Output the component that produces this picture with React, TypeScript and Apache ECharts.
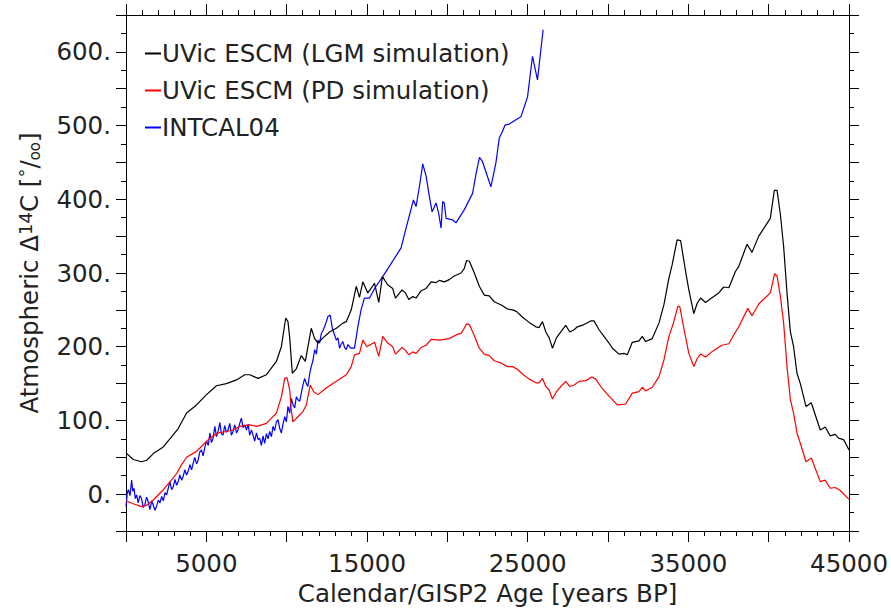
import React, { useEffect, useRef } from "react";
import * as echarts from "echarts";

const FONT = "DejaVu Sans";

const legendNames = ["UVic ESCM (LGM simulation)", "UVic ESCM (PD simulation)", "INTCAL04"];
const seriesColors = ["#000000", "#ff0000", "#0000ff"];

const xTickLabels = [5000, 15000, 25000, 35000, 45000];
const yTickLabels = [0, 100, 200, 300, 400, 500, 600];

const lgmSimulation = [
  [0, 56], [450, 47], [970, 44], [1290, 46], [1700, 55], [2320, 64], [2730, 75], [3250, 89], [3770, 110],
  [4390, 121], [5010, 135], [5630, 147], [6250, 150], [6880, 155], [7390, 162], [7700, 162], [8220, 157],
  [8740, 162], [9360, 180], [9670, 200], [9940, 239], [10080, 234], [10190, 212], [10350, 164], [10600, 170],
  [10910, 188], [11160, 180], [11530, 225], [11740, 211], [11950, 205], [12260, 212], [12670, 220],
  [13090, 225], [13500, 232], [13710, 234], [14020, 250], [14330, 282], [14530, 267], [14740, 288],
  [15050, 273], [15470, 286], [15730, 260], [15960, 295], [16290, 284], [16600, 279], [16770, 266],
  [17180, 277], [17390, 273], [17600, 264], [17850, 268], [18050, 266], [18370, 276], [18680, 279],
  [18990, 288], [19300, 287], [19500, 290], [19810, 288], [20120, 291], [20430, 296], [20850, 300],
  [21050, 306], [21200, 317], [21370, 316], [21680, 300], [21990, 282], [22300, 270], [22610, 269],
  [22920, 261], [23330, 257], [23750, 251], [24060, 250], [24300, 248], [24680, 240], [25090, 233],
  [25510, 227], [25710, 226], [25920, 234], [26130, 220], [26340, 212], [26540, 198], [26790, 212],
  [27060, 220], [27370, 229], [27620, 220], [27890, 223], [28090, 227], [28510, 230], [28920, 235],
  [29130, 235], [29440, 223], [29750, 214], [30060, 205], [30270, 198], [30680, 190], [31000, 191],
  [31200, 189], [31510, 206], [31930, 208], [32130, 214], [32340, 207], [32750, 211], [33170, 232],
  [33480, 257], [33790, 293], [33990, 311], [34300, 345], [34520, 344], [34830, 302], [35030, 277],
  [35340, 245], [35550, 259], [35760, 266], [36070, 260], [36380, 265], [36890, 273], [37200, 281],
  [37520, 280], [37930, 302], [38140, 309], [38650, 339], [38960, 328], [39380, 350], [40100, 374],
  [40350, 412], [40520, 412], [40730, 379], [40930, 336], [41140, 273], [41350, 220], [41550, 200],
  [41760, 164], [41970, 150], [42320, 119], [42650, 124], [43210, 87], [43520, 91], [43830, 79],
  [44140, 81], [44350, 76], [44660, 74], [45000, 60],
];

const pdSimulation = [
  [0, -9], [450, -13], [970, -17], [1290, -15], [1700, -8], [2320, 6], [2830, 19], [3150, 28], [3460, 40],
  [3770, 50], [4390, 58], [4800, 67], [5220, 76], [5730, 83], [6250, 85], [6660, 87], [7080, 92], [7700, 94],
  [8120, 92], [8740, 96], [9360, 110], [9670, 132], [9880, 157], [10020, 158], [10190, 141], [10290, 114],
  [10390, 98], [10700, 105], [11010, 112], [11220, 121], [11470, 148], [11680, 139], [11950, 135],
  [12460, 144], [13090, 153], [13710, 162], [14020, 173], [14220, 189], [14530, 191], [14740, 209],
  [14990, 200], [15470, 206], [15730, 187], [15980, 214], [16290, 205], [16600, 200], [16770, 190],
  [17180, 199], [17390, 195], [17600, 189], [17850, 193], [18050, 191], [18370, 199], [18680, 202],
  [18990, 210], [19500, 209], [20120, 211], [20540, 216], [20850, 218], [21050, 225], [21200, 231],
  [21370, 230], [21680, 215], [21990, 198], [22300, 190], [22610, 188], [22920, 181], [23330, 178],
  [23750, 173], [24060, 173], [24370, 169], [24680, 163], [25090, 156], [25510, 151], [25710, 151],
  [25920, 157], [26130, 146], [26340, 141], [26540, 129], [26790, 139], [27060, 146], [27370, 153],
  [27620, 146], [27890, 148], [28200, 153], [28620, 154], [28990, 159], [29240, 156], [29550, 146],
  [29860, 138], [30060, 133], [30580, 121], [31090, 122], [31510, 137], [31930, 139], [32130, 145],
  [32340, 140], [32750, 145], [33170, 159], [33480, 182], [33790, 214], [34040, 230], [34350, 255],
  [34470, 254], [34720, 225], [35030, 191], [35340, 173], [35550, 184], [35760, 190], [36070, 186],
  [36460, 193], [37080, 202], [37520, 204], [37930, 220], [38140, 227], [38700, 252], [38960, 242],
  [39380, 258], [40100, 273], [40370, 299], [40520, 296], [40730, 268], [40930, 232], [41140, 173],
  [41350, 128], [41550, 110], [41760, 83], [41970, 69], [42320, 44], [42650, 49], [43210, 17],
  [43520, 19], [43830, 8], [44140, 9], [44450, 5], [45000, -7],
];

const intcal04 = [
  [0, -17], [80, 2], [150, 6], [250, -2], [350, 19], [420, 4], [500, 8], [580, -6], [660, -1], [760, -12],
  [860, -2], [970, -6], [1070, -18], [1170, -15], [1280, -4], [1380, -10], [1490, -21], [1600, -9],
  [1700, -15], [1800, -22], [1910, -16], [2010, -8], [2110, -12], [2220, -3], [2320, -9], [2430, 2],
  [2530, -1], [2630, 8], [2730, 17], [2840, 6], [2940, 10], [3050, 20], [3150, 12], [3250, 17],
  [3350, 26], [3460, 19], [3560, 24], [3660, 33], [3770, 26], [3870, 31], [3980, 40], [4080, 33],
  [4180, 42], [4280, 50], [4390, 41], [4490, 46], [4590, 57], [4690, 60], [4800, 52], [4910, 64],
  [5010, 72], [5120, 66], [5220, 83], [5320, 70], [5420, 76], [5530, 92], [5630, 78], [5730, 85],
  [5840, 97], [5940, 82], [6040, 80], [6140, 93], [6250, 84], [6350, 87], [6460, 96], [6560, 80],
  [6660, 85], [6770, 94], [6880, 83], [6980, 88], [7080, 96], [7180, 103], [7290, 90], [7390, 94],
  [7500, 87], [7600, 95], [7700, 80], [7810, 87], [7910, 80], [8010, 72], [8120, 83], [8220, 74],
  [8320, 76], [8430, 66], [8530, 79], [8630, 69], [8740, 82], [8840, 75], [8940, 85], [9050, 78],
  [9150, 92], [9250, 86], [9360, 98], [9460, 101], [9570, 89], [9670, 83], [9780, 96], [9880, 105],
  [9980, 98], [10080, 119], [10190, 110], [10290, 130], [10400, 121], [10500, 117], [10600, 132],
  [10700, 128], [10810, 126], [10910, 137], [11010, 148], [11120, 157], [11220, 150], [11320, 146],
  [11430, 163], [11530, 173], [11640, 182], [11740, 196], [11850, 190], [11950, 209], [12050, 205],
  [12160, 218], [12260, 222], [12360, 227], [12470, 234], [12570, 241], [12710, 243], [12840, 225],
  [12950, 218], [13090, 209], [13190, 212], [13290, 198], [13400, 204], [13500, 207], [13600, 199],
  [13710, 196], [13810, 203], [13910, 200], [14020, 198], [14220, 198], [14430, 227], [14630, 250],
  [14840, 266], [15160, 266], [15470, 279], [15980, 295], [17120, 334], [17430, 361], [17890, 399],
  [18050, 390], [18260, 417], [18470, 448], [18680, 431], [18880, 404], [19050, 383], [19300, 395],
  [19460, 381], [19610, 361], [19710, 397], [19810, 395], [19920, 374], [20330, 372], [20540, 368],
  [21060, 386], [21570, 408], [21790, 435], [22000, 457], [22190, 451], [22710, 417], [23020, 449],
  [23230, 483], [23430, 492], [23600, 501], [23850, 502], [24580, 512], [24990, 539], [25300, 594],
  [25610, 562], [25960, 630],
];

const seriesData = [lgmSimulation, pdSimulation, intcal04];

export default function App() {
  const ref = useRef<HTMLDivElement>(null);

  useEffect(() => {
    if (!ref.current) return;
    const chart = echarts.init(ref.current, undefined, { renderer: "svg" });

    const lineStyle = { color: "#000", width: 1 };
    const FS = 24.5;
    const textBase = { fontFamily: FONT, fontSize: FS, color: "#222222" };

    const xBase = {
      type: "value" as const,
      min: 0,
      max: 45000,
      interval: 5000,
      axisLine: { show: true, onZero: false, lineStyle },
      axisTick: { show: true, inside: false, length: 11, lineStyle },
      minorTick: { show: true, splitNumber: 5, length: 5, lineStyle },
      splitLine: { show: false },
      minorSplitLine: { show: false },
    };
    const yBase = {
      type: "value" as const,
      min: -50,
      max: 650,
      interval: 50,
      axisLine: { show: true, onZero: false, lineStyle },
      axisTick: { show: true, inside: false, length: 10, lineStyle },
      minorTick: { show: true, splitNumber: 2, length: 5, lineStyle },
      splitLine: { show: false },
      minorSplitLine: { show: false },
    };

    chart.setOption({
      animation: false,
      backgroundColor: "#ffffff",
      grid: { left: 126, right: 41, top: 15, bottom: 83, containLabel: false },
      legend: {
        orient: "vertical",
        left: 140,
        top: 36,
        itemWidth: 16,
        itemHeight: 2,
        icon: "rect",
        itemGap: 12,
        data: legendNames,
        textStyle: { ...textBase, padding: [0, 0, 0, -4] },
      },
      xAxis: [
        {
          ...xBase,
          position: "bottom",
          name: "Calendar/GISP2 Age [years BP]",
          nameLocation: "middle",
          nameGap: 50,
          nameTextStyle: textBase,
          axisLabel: {
            ...textBase,
            margin: 20,
            formatter: (v: number) => (xTickLabels.includes(v) ? String(v) : ""),
          },
        },
        { ...xBase, position: "top", axisLabel: { show: false } },
      ],
      yAxis: [
        {
          ...yBase,
          position: "left",
          name: "Atmospheric Δ{sup|14}C [{deg|°}/{sub|oo}]",
          nameLocation: "middle",
          nameGap: 84,
          nameTextStyle: {
            ...textBase,
            rich: {
              sup: { fontFamily: FONT, fontSize: 18, color: "#222222", verticalAlign: "top", padding: [0, 0, 8, 0] },
              deg: { fontFamily: FONT, fontSize: 18, color: "#222222", verticalAlign: "top" },
              sub: { fontFamily: FONT, fontSize: 15, color: "#222222", verticalAlign: "bottom" },
            },
          },
          axisLabel: {
            ...textBase,
            margin: 15,
            formatter: (v: number) => (yTickLabels.includes(v) ? v + "." : ""),
          },
        },
        { ...yBase, position: "right", axisLabel: { show: false } },
      ],
      series: seriesData.map((d, i) => ({
        name: legendNames[i],
        type: "line",
        xAxisIndex: 0,
        yAxisIndex: 0,
        data: d,
        symbol: "none",
        showSymbol: false,
        color: seriesColors[i],
        lineStyle: { color: seriesColors[i], width: 1.2 },
        z: 3 - i,
      })),
    });

    return () => chart.dispose();
  }, []);

  return <div ref={ref} style={{ position: "absolute", left: 0, top: 0, width: 891, height: 614 }} />;
}
